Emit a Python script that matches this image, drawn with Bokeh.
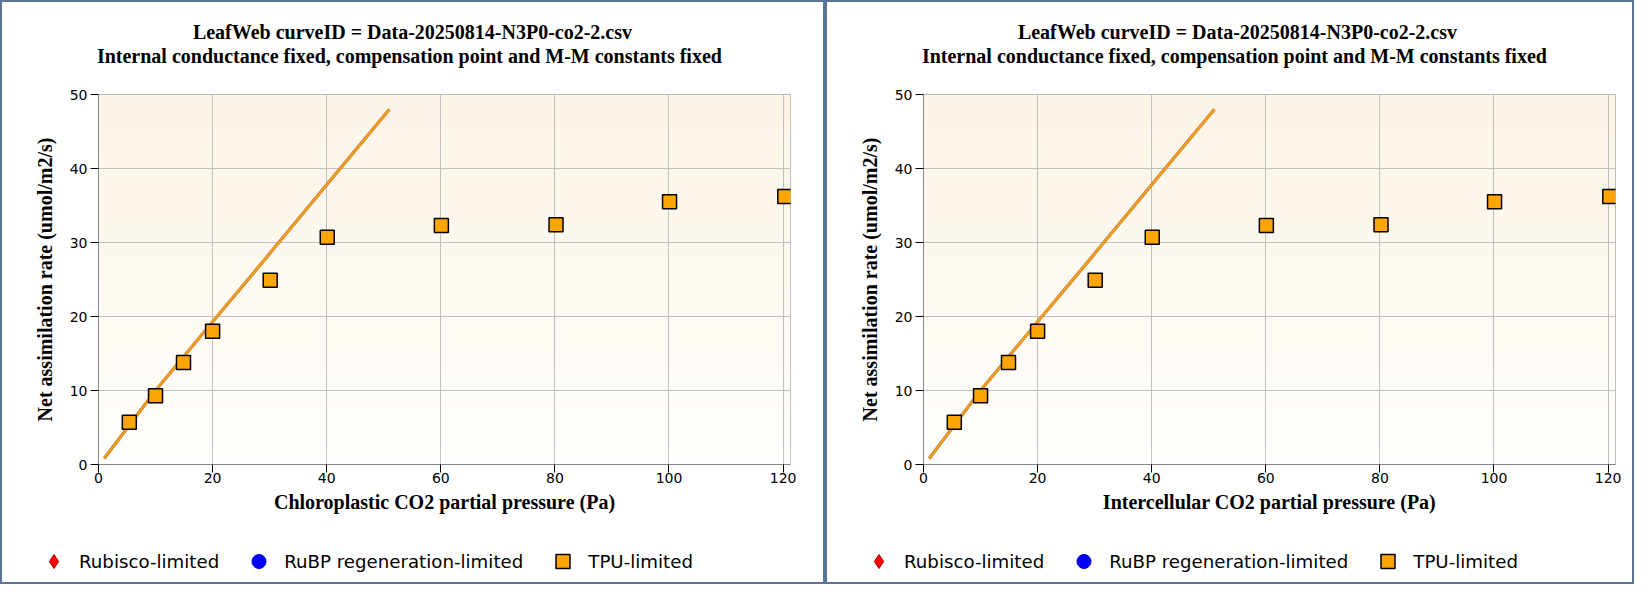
import numpy as np
from bokeh.plotting import figure
from bokeh.models import Range1d, Title, Legend, LegendItem, SingleIntervalTicker
from bokeh.layouts import row, column
from bokeh.embed import file_html
from bokeh.resources import INLINE

# ---------------- data ----------------
title_line1 = "LeafWeb curveID = Data-20250814-N3P0-co2-2.csv"
title_line2 = "Internal conductance fixed, compensation point and M-M constants fixed"
y_label = "Net assimilation rate (umol/m2/s)"
x_labels = ["Chloroplastic CO2 partial pressure (Pa)",
            "Intercellular CO2 partial pressure (Pa)"]
legend_labels = ["Rubisco-limited", "RuBP regeneration-limited", "TPU-limited"]

tpu_x = [5.4, 10.0, 14.9, 20.0, 30.1, 40.1, 60.1, 80.2, 100.1, 120.3]
tpu_y = [5.7, 9.3, 13.8, 18.0, 24.9, 30.7, 32.3, 32.4, 35.5, 36.2]
rubisco_x = []
rubisco_y = []
rubp_x = []
rubp_y = []
fit_x = [1.0, 10.0, 20.0, 30.0, 40.0, 51.0]
fit_y = [0.8, 10.0, 19.3, 28.5, 37.8, 48.0]

x_range_max = 121.3
y_range_max = 50
x_tick_step = 20
y_tick_step = 10

# ---------------- style ----------------
BORDER = "#5b7496"
SERIF = "Liberation Serif"
SANS = "DejaVu Sans"
FRAME_W, FRAME_H = 692, 370

RUB_STYLE = dict(marker="diamond", size=12, fill_color="#FF0000",
                 line_color="#B00000", line_width=1)
RUBP_STYLE = dict(marker="circle", size=14, fill_color="#0000FF",
                  line_color="#0000CC", line_width=1)
TPU_STYLE = dict(marker="square", size=14, fill_color="#FFA500",
                 line_color="black", line_width=1.5)


def gradient_image(n=256):
    top = np.array([252, 244, 230], dtype=float)
    bottom = np.array([255, 254, 252], dtype=float)
    img = np.empty((n, 1), dtype=np.uint32)
    view = img.view(dtype=np.uint8).reshape((n, 1, 4))
    for i in range(n):
        t = i / (n - 1)
        c = bottom + (top - bottom) * t
        view[i, 0, 0] = int(round(c[0]))
        view[i, 0, 1] = int(round(c[1]))
        view[i, 0, 2] = int(round(c[2]))
        view[i, 0, 3] = 255
    return img


def make_panel(xlabel, content_w):
    right = content_w - 96 - FRAME_W
    p = figure(frame_width=FRAME_W, frame_height=FRAME_H,
               x_range=Range1d(0, x_range_max), y_range=Range1d(0, y_range_max),
               output_backend="svg", toolbar_location=None,
               min_border_left=96, min_border_right=right,
               min_border_top=92, min_border_bottom=76)
    p.background_fill_color = "white"
    p.border_fill_color = "white"
    p.outline_line_color = "#aaaaaa"
    p.outline_line_width = 1

    p.image_rgba(image=[gradient_image()], x=0, y=0, dw=x_range_max, dh=y_range_max,
                 level="image")

    p.xaxis.ticker = SingleIntervalTicker(interval=x_tick_step, num_minor_ticks=0)
    p.yaxis.ticker = SingleIntervalTicker(interval=y_tick_step, num_minor_ticks=0)
    p.grid.grid_line_color = "#c0c0c0"
    p.grid.grid_line_width = 1

    for ax in (p.xaxis[0], p.yaxis[0]):
        ax.axis_line_color = "#888888"
        ax.axis_line_width = 1
        ax.major_tick_line_color = "black"
        ax.major_tick_out = 8
        ax.major_tick_in = 0
        ax.minor_tick_line_color = None
        ax.major_label_text_font = SANS
        ax.major_label_text_font_size = "14px"
        ax.major_label_text_color = "black"
        ax.axis_label_text_font = SERIF
        ax.axis_label_text_font_style = "bold"
        ax.axis_label_text_font_size = "20px"
        ax.axis_label_text_color = "black"
    p.xaxis.axis_label = xlabel
    p.yaxis.axis_label = y_label
    p.xaxis.major_label_standoff = 0
    p.yaxis.major_label_standoff = 3
    p.xaxis.axis_label_standoff = 5
    p.yaxis.axis_label_standoff = 11

    # titles: spacer nearest the frame, then line 2, then line 1
    p.add_layout(Title(text=" ", text_font_size="1px", standoff=25), "above")
    p.add_layout(Title(text=title_line2, align="left", offset=-1.6, standoff=0,
                       text_font=SERIF, text_font_style="bold",
                       text_font_size="20px", text_color="black"), "above")
    p.add_layout(Title(text=title_line1, align="left", offset=94.4, standoff=0,
                       text_font=SERIF, text_font_style="bold",
                       text_font_size="20px", text_color="black"), "above")

    # data
    p.line(fit_x, fit_y, line_color="#C47A2C", line_width=3.2)
    p.line(fit_x, fit_y, line_color="#F7A21B", line_width=1.8)
    p.scatter(rubisco_x, rubisco_y, **RUB_STYLE)
    p.scatter(rubp_x, rubp_y, **RUBP_STYLE)
    p.scatter(tpu_x, tpu_y, **TPU_STYLE)

    # legend strip below the chart (its own small canvas, so nothing is clipped)
    lf = figure(frame_width=content_w, frame_height=42,
                x_range=Range1d(0, 1), y_range=Range1d(0, 1),
                x_axis_type=None, y_axis_type=None,
                output_backend="svg", toolbar_location=None, min_border=0)
    lf.outline_line_color = None
    lf.background_fill_color = "white"
    lf.border_fill_color = "white"
    # style-only proxies (a single NaN point each, so nothing is drawn in the strip)
    g_rub = lf.scatter([np.nan], [np.nan], **RUB_STYLE)
    g_rubp = lf.scatter([np.nan], [np.nan], **RUBP_STYLE)
    g_tpu = lf.scatter([np.nan], [np.nan], **TPU_STYLE)
    lg = Legend(items=[LegendItem(label=legend_labels[0], renderers=[g_rub]),
                       LegendItem(label=legend_labels[1], renderers=[g_rubp]),
                       LegendItem(label=legend_labels[2], renderers=[g_tpu])],
                location="center_left", orientation="horizontal",
                glyph_width=35, glyph_height=35, label_height=35,
                label_standoff=8, padding=0, margin=34, spacing=22,
                border_line_color=None, background_fill_alpha=0,
                label_text_font=SANS, label_text_font_size="18.2px",
                label_text_color="black")
    lf.add_layout(lg, "center")

    return column(p, lf, spacing=0,
                  styles={"border": f"2px solid {BORDER}", "box-sizing": "content-box"})


panel1 = make_panel(x_labels[0], 821)
panel2 = make_panel(x_labels[1], 805)
layout = row(panel1, panel2, spacing=0)

open("out.html", "w").write(file_html(layout, INLINE))
